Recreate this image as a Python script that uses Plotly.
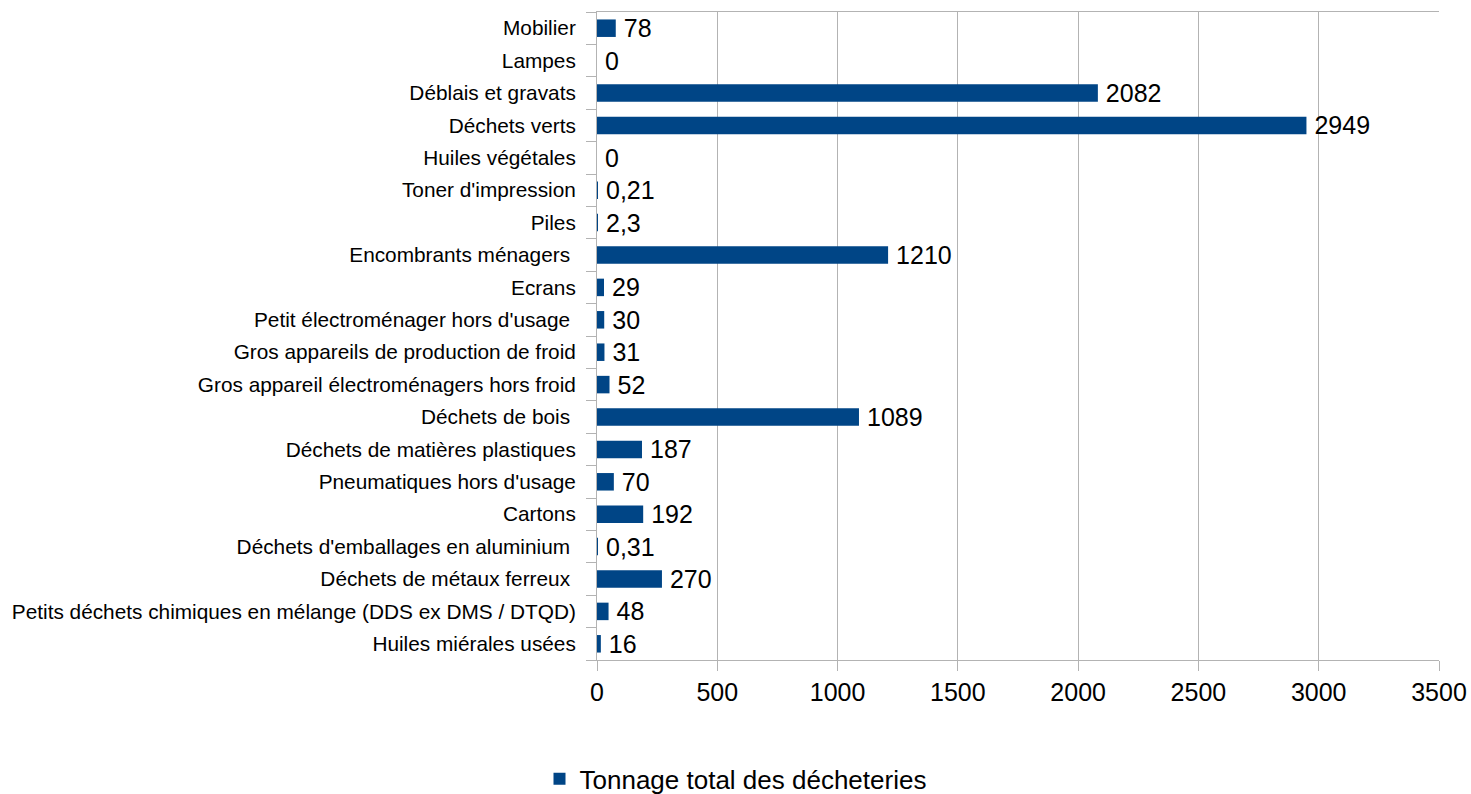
import plotly.graph_objects as go

categories = [
    "Huiles miérales usées",
    "Petits déchets chimiques en mélange (DDS ex DMS / DTQD)",
    "Déchets de métaux ferreux\u00a0",
    "Déchets d'emballages en aluminium\u00a0",
    "Cartons",
    "Pneumatiques hors d'usage",
    "Déchets de matières plastiques",
    "Déchets de bois\u00a0",
    "Gros appareil électroménagers hors froid",
    "Gros appareils de production de froid",
    "Petit électroménager hors d'usage\u00a0",
    "Ecrans",
    "Encombrants ménagers\u00a0",
    "Piles",
    "Toner d'impression",
    "Huiles végétales",
    "Déchets verts",
    "Déblais et gravats",
    "Lampes",
    "Mobilier",
]
values = [16, 48, 270, 0.31, 192, 70, 187, 1089, 52, 31, 30, 29, 1210, 2.3, 0.21, 0, 2949, 2082, 0, 78]
series_name = "Tonnage total des décheteries"
x_ticks = [0, 500, 1000, 1500, 2000, 2500, 3000, 3500]

def fmt(v):
    if float(v).is_integer():
        return str(int(v))
    return str(v).replace(".", ",")

labels = ["\u2009" + fmt(v) for v in values]

FONT = "Liberation Sans, Arial, sans-serif"
BLUE = "#004586"
GRID = "#b3b3b3"

fig = go.Figure(
    go.Bar(
        x=values,
        y=categories,
        orientation="h",
        name=series_name,
        marker=dict(color=BLUE, line=dict(width=0)),
        text=labels,
        textposition="outside",
        constraintext="none",
        textfont=dict(size=25, color="#000000", family=FONT),
        cliponaxis=False,
        showlegend=True,
    )
)

fig.update_layout(
    width=1471,
    height=794,
    margin=dict(l=597, r=32, t=12, b=134, autoexpand=False),
    paper_bgcolor="white",
    plot_bgcolor="white",
    font=dict(family=FONT, color="#000000"),
    bargap=0.46,
    showlegend=True,
    legend=dict(
        orientation="h",
        xref="container",
        yref="container",
        x=0.5,
        xanchor="center",
        y=0.019,
        yanchor="middle",
        font=dict(size=26, family=FONT),
        itemwidth=30,
    ),
)

fig.update_xaxes(
    range=[0, 3500],
    tickvals=x_ticks,
    ticktext=[str(t) for t in x_ticks],
    showgrid=True,
    gridcolor=GRID,
    gridwidth=1,
    zeroline=False,
    showline=True,
    linecolor=GRID,
    linewidth=1,
    mirror=True,
    ticks="outside",
    ticklen=10,
    tickcolor=GRID,
    tickfont=dict(size=25, family=FONT),
    ticklabelstandoff=0,
    automargin=False,
)

fig.update_yaxes(
    type="category",
    categoryorder="array",
    categoryarray=categories,
    showgrid=False,
    showline=True,
    linecolor=GRID,
    linewidth=1,
    ticks="outside",
    tickson="boundaries",
    ticklen=10,
    tickcolor=GRID,
    tickfont=dict(size=20.8, family=FONT),
    ticklabelstandoff=16,
    automargin=False,
)

fig.write_html(
    "out.html",
    config={"displayModeBar": False},
    post_script="document.body.style.margin='0';document.body.style.overflow='hidden';",
)
